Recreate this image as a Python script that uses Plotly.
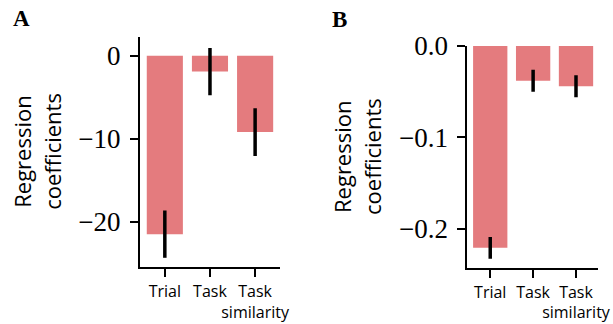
import plotly.graph_objects as go

categories = ["Trial", "Task", "Task<br>similarity"]
a_values = [-21.5, -1.9, -9.2]
a_errors = [2.85, 2.85, 2.87]
b_values = [-0.221, -0.038, -0.044]
b_errors = [0.012, 0.012, 0.012]
a_ticks = [0, -10, -20]
b_ticks = [0.0, -0.1, -0.2]
bar_color = "#E47B7E"
W, H = 613, 324

fig = go.Figure()
fig.add_trace(go.Bar(x=categories, y=a_values, width=0.8, marker=dict(color=bar_color, line=dict(width=0)),
                     error_y=dict(type="data", array=a_errors, color="black", thickness=3.5, width=0),
                     xaxis="x", yaxis="y"))
fig.add_trace(go.Bar(x=categories, y=b_values, width=0.8, marker=dict(color=bar_color, line=dict(width=0)),
                     error_y=dict(type="data", array=b_errors, color="black", thickness=3.5, width=0),
                     xaxis="x2", yaxis="y2"))

tickfont_x = dict(family="Open Sans", size=16, color="black")
tickfont_y = dict(family="Liberation Serif", size=27, color="black")
common_axis = dict(showline=True, linecolor="black", linewidth=2, ticks="outside", ticklen=8, tickwidth=2,
                   tickcolor="black", showgrid=False, zeroline=False, fixedrange=True, automargin=False)

fig.update_layout(
    width=W, height=H, margin=dict(l=0, r=0, t=0, b=0),
    paper_bgcolor="white", plot_bgcolor="white", showlegend=False, bargap=0.2,
    xaxis=dict(domain=[140 / W, 279.5 / W], anchor="y", range=[-0.55, 2.54], tickfont=tickfont_x,
               tickangle=0, ticklabelstandoff=1, **common_axis),
    yaxis=dict(domain=[1 - 267 / H, 1 - 36.7 / H], anchor="x", range=[-25.46, 2.3], tickvals=a_ticks,
               tickfont=tickfont_y, ticklabelstandoff=4, **common_axis),
    xaxis2=dict(domain=[467.3 / W, 598.3 / W], anchor="y2", range=[-0.535, 2.52], tickfont=tickfont_x,
                tickangle=0, ticklabelstandoff=0, **common_axis),
    yaxis2=dict(domain=[1 - 268.3 / H, 1 - 46 / H], anchor="x2", range=[-0.2434, 0], tickvals=b_ticks,
                tickformat=".1f", tickfont=tickfont_y, ticklabelstandoff=4, **common_axis),
)

title_font = dict(family="Open Sans", size=22, color="black")
for xc, yc, txt in [(22, 151.8, "Regression"), (52, 151.8, "coefficients"),
                    (342, 157, "Regression"), (372, 157, "coefficients")]:
    fig.add_annotation(text=txt, x=xc / W, y=1 - yc / H, xref="paper", yref="paper", textangle=-90,
                       showarrow=False, xanchor="center", yanchor="middle", font=title_font)

for xc, yc, txt in [(21, 18, "A"), (339.5, 19.5, "B")]:
    fig.add_annotation(text="<b>" + txt + "</b>", x=xc / W, y=1 - yc / H, xref="paper", yref="paper",
                       showarrow=False, xanchor="center", yanchor="middle",
                       font=dict(family="Liberation Serif", size=23, color="black"))

fig.write_html("out.html")
